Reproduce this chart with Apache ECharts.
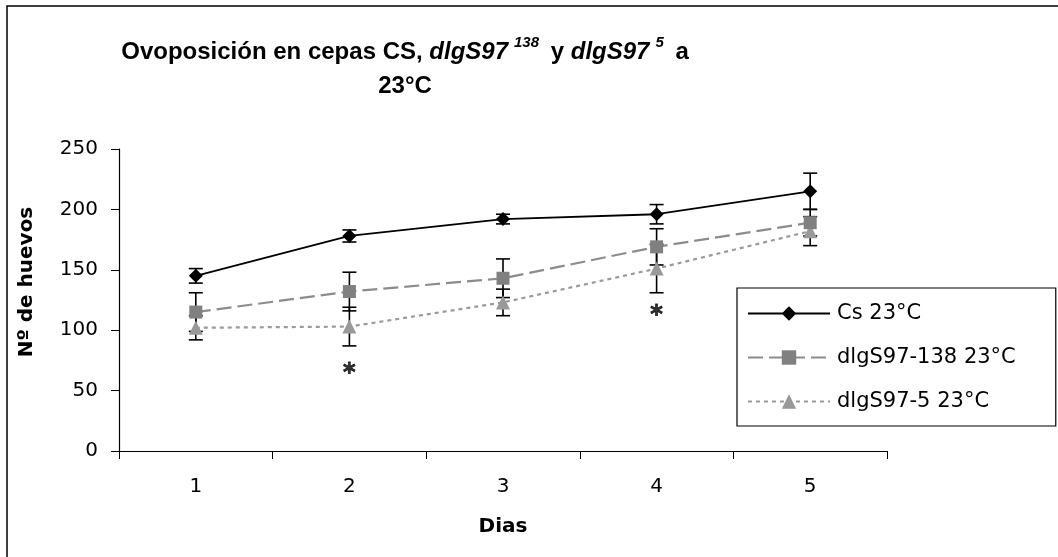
<!DOCTYPE html>
<html>
<head>
<meta charset="utf-8">
<script src="https://cdn.jsdelivr.net/npm/echarts@6/dist/echarts.min.js"></script>
<style>html,body{margin:0;padding:0;background:#fff}#c{width:1058px;height:557px}</style>
</head>
<body>
<div id="c"></div>
<script>
var days = ['1', '2', '3', '4', '5'];
var yTicks = [0, 50, 100, 150, 200, 250];
var csMean = [145, 178, 192, 196, 215];
var csErr = [6, 5, 4, 8, 15];
var m138Mean = [115, 132, 143, 169, 189];
var m138Err = [16, 16, 16, 15, 11];
var m5Mean = [102, 103, 123, 151, 182];
var m5Err = [10, 16, 11, 20, 12];
var starDays = ['2', '4'];
var starValues = [64, 112];
var seriesNames = ['Cs 23°C', 'dlgS97-138 23°C', 'dlgS97-5 23°C'];

var FONT = 'DejaVu Sans';
var TFONT = 'Liberation Sans';

function errData(mean, err) {
  return mean.map(function (m, i) { return [i, m - err[i], m + err[i]]; });
}
function errSeries(mean, err) {
  return {
    type: 'custom',
    silent: true,
    z: 1,
    data: errData(mean, err),
    renderItem: function (params, api) {
      var x = api.value(0);
      var lo = api.coord([x, api.value(1)]);
      var hi = api.coord([x, api.value(2)]);
      var w = 7;
      var st = { stroke: '#000', lineWidth: 1.6, fill: null };
      return {
        type: 'group',
        children: [
          { type: 'line', shape: { x1: hi[0], y1: hi[1], x2: lo[0], y2: lo[1] }, style: st },
          { type: 'line', shape: { x1: hi[0] - w, y1: hi[1], x2: hi[0] + w, y2: hi[1] }, style: st },
          { type: 'line', shape: { x1: lo[0] - w, y1: lo[1], x2: lo[0] + w, y2: lo[1] }, style: st }
        ]
      };
    }
  };
}

var chart = echarts.init(document.getElementById('c'), null, { renderer: 'canvas' });
chart.setOption({
  animation: false,
  backgroundColor: '#fff',
  textStyle: { fontFamily: FONT },
  title: {
    left: 400,
    top: 30,
    textAlign: 'center',
    text: 'Ovoposición en cepas CS, {i|dlgS97}{sup|138} y {i|dlgS97}{sup|5} a\n23°C',
    textStyle: {
      fontFamily: TFONT, fontWeight: 'bold', fontSize: 24, color: '#000', lineHeight: 34,
      rich: {
        i: { fontFamily: TFONT, fontWeight: 'bold', fontStyle: 'italic', fontSize: 24, color: '#000' },
        sup: { fontFamily: TFONT, fontWeight: 'bold', fontStyle: 'italic', fontSize: 15, color: '#000', verticalAlign: 'top', padding: [0, 5, 10, 6] }
      }
    }
  },
  graphic: [{
    type: 'rect', silent: true, z: 100,
    shape: { x: 7, y: 6, width: 1200, height: 700 },
    style: { fill: null, stroke: '#000', lineWidth: 1.5 }
  }],
  legend: {
    orient: 'vertical',
    left: 737,
    top: 288,
    padding: [15, 40, 14, 10],
    itemGap: 23,
    itemWidth: 82,
    itemHeight: 18,
    backgroundColor: '#fff',
    borderColor: '#000',
    borderWidth: 1.2,
    borderRadius: 0,
    data: seriesNames,
    textStyle: { fontFamily: FONT, fontSize: 21, color: '#000', padding: [0, 0, 0, 2] }
  },
  grid: { left: 119, right: 171, top: 149, bottom: 106, containLabel: false },
  xAxis: {
    type: 'category',
    data: days,
    boundaryGap: true,
    name: 'Dias',
    nameLocation: 'middle',
    nameGap: 66,
    nameTextStyle: { fontFamily: FONT, fontWeight: 'bold', fontSize: 20, color: '#000' },
    axisLine: { lineStyle: { color: '#000', width: 1.2 } },
    axisTick: { show: true, length: 8, inside: false, lineStyle: { color: '#000' } },
    axisLabel: { margin: 26, fontFamily: FONT, fontSize: 20, color: '#000' },
    splitLine: { show: false }
  },
  yAxis: {
    type: 'value',
    min: 0,
    max: 250,
    interval: 50,
    name: 'Nº de huevos',
    nameLocation: 'middle',
    nameGap: 82,
    nameTextStyle: { fontFamily: FONT, fontWeight: 'bold', fontSize: 20, color: '#000', padding: [0, 0, 0, 36] },
    axisLine: { show: true, lineStyle: { color: '#000', width: 1.2 } },
    axisTick: { show: true, length: 8, inside: false, lineStyle: { color: '#000' } },
    axisLabel: {
      margin: 21, fontFamily: FONT, fontSize: 20, color: '#000',
      formatter: function (v) { return yTicks.indexOf(v) >= 0 ? String(v) : ''; }
    },
    splitLine: { show: false }
  },
  series: [
    errSeries(csMean, csErr),
    errSeries(m138Mean, m138Err),
    errSeries(m5Mean, m5Err),
    {
      name: seriesNames[2], type: 'line', z: 3, data: m5Mean,
      symbol: 'triangle', symbolSize: 14,
      itemStyle: { color: '#999999' },
      lineStyle: { color: '#9a9a9a', width: 2.2, type: [4, 4] }
    },
    {
      name: seriesNames[1], type: 'line', z: 4, data: m138Mean,
      symbol: 'rect', symbolSize: 13,
      itemStyle: { color: '#808080' },
      lineStyle: { color: '#8c8c8c', width: 2.2, type: [15, 6] }
    },
    {
      name: seriesNames[0], type: 'line', z: 5, data: csMean,
      symbol: 'diamond', symbolSize: 14,
      itemStyle: { color: '#000' },
      lineStyle: { color: '#000', width: 1.8, type: 'solid' }
    },
    {
      type: 'scatter', silent: true, z: 6,
      data: starDays.map(function (d, i) { return [d, starValues[i]]; }),
      symbolSize: 1,
      itemStyle: { color: 'rgba(0,0,0,0)' },
      label: { show: true, position: 'inside', formatter: '*', fontFamily: FONT, fontWeight: 'bold', fontSize: 24, color: '#000', textBorderColor: '#000', textBorderWidth: 0.8 }
    }
  ]
});
</script>
</body>
</html>
